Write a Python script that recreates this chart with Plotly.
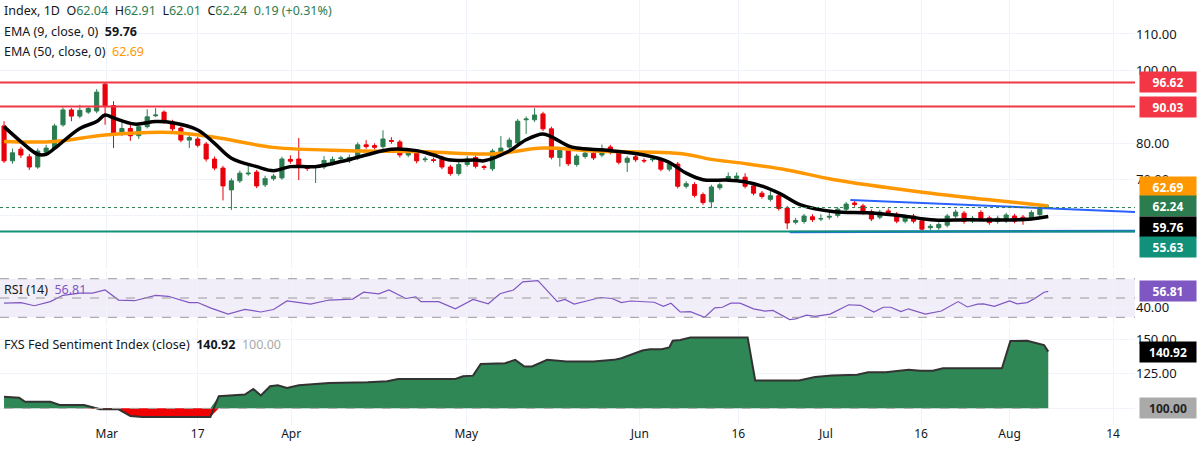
import plotly.graph_objects as go
from plotly.subplots import make_subplots

# bar index positions of the date labels on the bottom axis
tick_pos = [12.2, 23.0, 34.1, 54.9, 75.5, 87.2, 97.6, 108.9, 119.4, 131.7]
tick_text = ["Mar", "17", "Apr", "May", "Jun", "16", "Jul", "16", "Aug", "14"]

opens = [84.7, 75.1, 78.3, 76.2, 73.4, 77.5, 78.6, 85.0, 89.1, 87.4,
         88.5, 88.8, 96.2, 90.3, 82.5, 84.0, 82.0, 84.5, 87.5, 88.5,
         85.8, 84.1, 80.8, 81.1, 79.7, 75.6, 73.1, 67.1, 69.6, 71.5,
         72.0, 68.5, 70.2, 70.4, 75.5, 75.6, 73.1, 73.2, 73.4, 74.4,
         75.7, 75.1, 75.9, 79.5, 79.3, 79.0, 80.7, 80.3, 76.7, 77.5,
         75.4, 75.4, 75.9, 73.4, 71.6, 74.1, 76.0, 73.5, 72.9, 77.5,
         78.9, 80.0, 86.4, 86.4, 88.0, 83.9, 76.0, 78.0, 74.1, 76.3,
         77.2, 76.7, 78.9, 77.5, 74.7, 76.2, 75.2, 75.4, 75.4, 72.8,
         74.2, 68.1, 68.6, 65.8, 63.8, 67.7, 69.9, 70.3, 70.6, 68.2,
         66.2, 64.5, 65.5, 62.1, 58.2, 58.4, 59.7, 59.1, 59.6, 60.1,
         61.8, 63.5, 62.7, 61.1, 59.6, 61.3, 60.4, 58.5, 59.9, 58.6,
         56.7, 56.7, 57.4, 59.9, 60.7, 58.6, 60.9, 59.4, 58.4, 58.6,
         59.9, 59.6, 59.3, 60.3, 62.04]
closes = [75.1, 77.3, 76.7, 73.4, 77.8, 78.6, 84.7, 89.1, 87.4, 89.0,
          89.5, 94.0, 90.3, 82.5, 84.0, 82.0, 84.5, 87.2, 87.7, 85.8,
          83.9, 80.8, 81.5, 79.4, 75.6, 73.1, 68.2, 69.6, 71.7, 71.7,
          68.2, 70.2, 70.9, 75.6, 75.0, 73.4, 73.0, 73.4, 75.2, 75.5,
          75.9, 76.0, 79.5, 79.0, 78.8, 81.1, 80.5, 76.7, 77.5, 75.1,
          75.6, 75.2, 73.4, 71.6, 74.1, 75.6, 73.6, 73.3, 77.8, 78.6,
          80.8, 86.0, 86.6, 87.7, 83.9, 76.1, 78.0, 74.3, 76.4, 77.2,
          75.9, 78.4, 77.5, 74.7, 75.8, 75.4, 75.1, 75.6, 72.8, 74.2,
          68.1, 68.8, 65.6, 63.6, 67.9, 68.5, 70.8, 70.9, 68.1, 66.2,
          65.3, 65.5, 62.0, 58.0, 58.7, 59.9, 58.9, 59.2, 59.8, 61.8,
          63.2, 63.1, 60.9, 59.1, 61.0, 60.9, 58.5, 59.7, 58.5, 56.3,
          57.1, 57.6, 59.9, 61.0, 58.4, 59.3, 59.3, 58.1, 59.3, 60.2,
          58.5, 59.0, 60.9, 62.1, 62.24]
highs = [86.0, 78.5, 79.0, 77.0, 78.5, 79.5, 85.3, 89.8, 89.6, 90.5,
         90.1, 94.8, 96.6, 91.5, 85.8, 85.3, 85.0, 89.3, 89.6, 89.0,
         86.4, 84.6, 82.5, 81.7, 80.3, 76.3, 73.7, 70.3, 72.4, 73.9,
         72.6, 71.0, 71.5, 76.2, 76.6, 81.4, 73.8, 74.0, 76.4, 76.3,
         76.5, 76.8, 80.2, 80.8, 79.9, 83.5, 81.6, 80.9, 78.2, 78.1,
         76.3, 76.0, 76.5, 74.0, 74.8, 76.4, 76.6, 74.0, 78.4, 81.9,
         81.5, 86.6, 87.3, 89.6, 88.6, 84.5, 78.7, 78.6, 77.0, 77.9,
         77.8, 79.6, 79.5, 78.1, 76.4, 76.8, 75.8, 76.6, 76.0, 74.8,
         74.8, 69.5, 69.2, 66.4, 68.5, 69.1, 71.9, 71.9, 71.7, 68.8,
         66.8, 66.9, 66.1, 62.7, 59.4, 60.5, 60.4, 60.4, 61.0, 62.4,
         63.8, 64.2, 63.3, 61.7, 61.6, 62.0, 61.0, 60.3, 60.5, 59.2,
         57.7, 58.2, 60.5, 61.7, 61.3, 59.9, 61.5, 60.0, 60.0, 60.8,
         60.5, 60.2, 61.5, 62.7, 62.91]
lows = [74.5, 74.3, 75.9, 72.6, 72.9, 77.0, 78.0, 84.5, 86.0, 86.8,
        88.0, 88.2, 85.0, 78.6, 81.9, 80.6, 81.1, 84.0, 87.1, 85.3,
        83.3, 80.2, 78.6, 78.8, 74.9, 72.5, 64.2, 61.6, 69.0, 71.0,
        67.6, 67.9, 69.6, 69.9, 74.3, 69.8, 72.3, 69.0, 72.8, 73.8,
        75.0, 74.5, 75.3, 78.4, 78.2, 78.4, 79.8, 76.0, 76.1, 74.4,
        74.7, 74.6, 72.8, 71.0, 71.0, 73.5, 73.0, 72.6, 72.3, 77.0,
        78.3, 79.4, 82.5, 85.8, 83.3, 75.5, 73.5, 73.7, 73.5, 75.7,
        75.3, 76.1, 76.9, 74.1, 72.0, 74.8, 74.5, 74.8, 72.2, 72.2,
        67.5, 67.5, 65.0, 63.0, 62.1, 67.1, 69.3, 69.7, 67.5, 65.6,
        64.7, 63.9, 61.4, 56.3, 57.6, 57.8, 58.3, 58.5, 58.9, 59.5,
        61.2, 62.5, 60.3, 58.5, 59.0, 60.3, 57.9, 57.9, 57.9, 55.7,
        56.1, 56.1, 56.8, 59.3, 57.8, 58.0, 58.7, 57.5, 57.8, 58.0,
        57.9, 57.5, 58.7, 59.7, 62.01]

# EMA readings (bar index, value)
ema9_x = [0, 2, 4, 5, 6, 9, 11, 12, 13, 15.5, 18, 20, 23, 25, 27, 30, 32, 34,
          37, 40, 43, 46, 49, 51, 53, 56, 57, 60, 62, 64, 65, 67, 68, 72, 76,
          78.8, 81, 83, 85.8, 87.8, 90.2, 92.2, 94.6, 98.6, 102.5, 106.5,
          110.5, 114.4, 118.4, 122, 124]
ema9_y = [84.5, 80.4, 76.9, 76.9, 78.5, 84.0, 85.9, 87.7, 86.9, 85.2, 85.9,
          85.6, 83.6, 79.9, 75.8, 73.5, 72.4, 73.5, 73.5, 74.9, 76.7, 78.3,
          77.9, 76.7, 75.3, 75.3, 75.1, 77.8, 80.9, 82.5, 81.7, 79.2, 78.6,
          77.9, 76.7, 74.9, 71.7, 69.9, 69.8, 69.4, 68.0, 66.0, 63.0, 61.1,
          60.8, 60.0, 58.8, 58.9, 58.8, 59.1, 59.76]
ema50_x = [0, 6, 12, 20, 25, 32, 41, 50, 58, 64, 70, 80.7, 84, 87.8, 93,
           98.6, 108.6, 116.4, 124]
ema50_y = [80.4, 80.4, 82.2, 82.9, 81.6, 78.8, 77.9, 77.6, 77.0, 78.6, 77.8,
           77.0, 75.5, 74.4, 72.6, 69.9, 66.6, 64.5, 62.69]

rsi_x = [0, 2, 3.6, 5.5, 7, 9, 10.5, 12, 13.6, 15.5, 18, 19.5, 22, 23, 24.5,
         26.6, 28.6, 30.5, 32, 33.6, 36.4, 38.6, 41.4, 42.7, 44.5, 45.7, 47.7,
         48.9, 49.5, 51.6, 53.6, 55.7, 57.5, 58.9, 60.5, 61.6, 63.4, 65.7,
         66.6, 67.7, 69.3, 70.8, 72.2, 73.3, 74.4, 77.2, 78.3, 79.2, 80.3,
         81.5, 83.2, 84.4, 85.3, 86.3, 87.4, 89, 90.3, 91.3, 93.3, 94, 95.3,
         96.3, 98.1, 100.3, 101.7, 103.3, 104.4, 105.3, 106.5, 107.4, 109.4,
         111.3, 113.3, 114.4, 115.6, 116.3, 117.6, 119.4, 120.3, 121.5,
         122.4, 123.5, 124]
rsi_y = [44.6, 45.3, 42.0, 46.3, 52.8, 55.0, 55.0, 58.3, 47.9, 47.2, 52.8,
         51.8, 45.3, 45.3, 39.8, 33.3, 38.1, 35.5, 38.1, 46.9, 43.7, 47.9,
         48.9, 56.0, 54.4, 58.3, 49.5, 51.1, 46.3, 46.3, 38.8, 48.5, 44.0,
         54.4, 58.3, 66.7, 68.0, 46.3, 48.5, 43.7, 47.2, 50.5, 49.5, 45.3,
         46.9, 45.6, 41.4, 44.6, 35.5, 35.9, 30.0, 39.8, 40.4, 44.6, 44.6,
         38.8, 36.5, 37.1, 27.7, 28.4, 32.3, 31.0, 33.3, 43.0, 42.4, 35.5,
         40.4, 40.4, 35.9, 38.8, 33.3, 36.5, 46.3, 40.7, 43.7, 44.0, 41.4,
         46.9, 44.0, 45.3, 49.5, 56.0, 56.81]

sent_x = [0, 1.8, 2.5, 5.5, 6.6, 9.5, 11.4, 13.6, 15, 16.4, 24.5, 25.5, 28.6,
          29.6, 30.5, 31.6, 32.5, 33.6, 35, 38.6, 43.2, 45.5, 46.8, 53.6, 54.5,
          55.7, 56.6, 59.5, 60.7, 61.8, 62.7, 64.5, 66.8, 70, 72.4, 73.3,
          75.8, 76.7, 78.1, 79, 79.4, 80.3, 81.5, 88.3, 89.2, 94.4, 96.3,
          97.6, 98.3, 101.3, 102.6, 104.7, 105.6, 107.4, 108.8, 110.3, 111.5,
          118.5, 119.5, 121.5, 122.4, 123.5, 124]
sent_y = [108.3, 107.6, 104.8, 104.8, 102.4, 102.4, 99.3, 99.3, 94.5, 93.8,
          93.8, 108.8, 110.0, 114.0, 109.3, 116.0, 116.7, 114.8, 116.7, 118.3,
          118.8, 119.5, 121.2, 121.2, 123.1, 123.6, 132.1, 132.6, 135.0, 130.2,
          130.2, 135.0, 133.8, 133.8, 135.0, 136.2, 141.7, 142.6, 142.6, 144.0,
          148.8, 149.3, 151.2, 151.2, 120.2, 120.2, 122.6, 123.1, 123.8, 124.3,
          126.0, 126.0, 126.7, 127.9, 127.1, 127.1, 129.0, 129.0, 148.6, 148.8,
          147.4, 145.7, 140.92]

# drawn trend lines (bar index, price)
upper_tl_x = [100.5, 134.3]
upper_tl_y = [64.35, 61.0]
lower_tl_x = [93.3, 134.3]
lower_tl_y = [55.5, 55.8]
levels = [96.62, 90.03]
support = 55.63

GREEN = "#2b7d50"
RED = "#e8000b"
FONT = "Noto Sans"
idx = list(range(len(opens)))

fig = make_subplots(rows=3, cols=1, shared_xaxes=True, vertical_spacing=0.007,
                    row_heights=[268, 54, 97])

fig.add_trace(go.Candlestick(x=idx, open=opens, high=highs, low=lows, close=closes,
                             increasing=dict(line=dict(color=GREEN, width=1), fillcolor=GREEN),
                             decreasing=dict(line=dict(color=RED, width=1), fillcolor=RED),
                             whiskerwidth=0), row=1, col=1)
fig.add_trace(go.Scatter(x=ema50_x, y=ema50_y, mode="lines", line=dict(color="#ff9800", width=3.5, shape="spline")), row=1, col=1)
fig.add_trace(go.Scatter(x=ema9_x, y=ema9_y, mode="lines", line=dict(color="#000000", width=3.5, shape="spline")), row=1, col=1)
fig.add_trace(go.Scatter(x=upper_tl_x, y=upper_tl_y, mode="lines", line=dict(color="#2962ff", width=2)), row=1, col=1)
fig.add_trace(go.Scatter(x=lower_tl_x, y=lower_tl_y, mode="lines", line=dict(color="#2962ff", width=2.5)), row=1, col=1)

for lv in levels:
    fig.add_hline(y=lv, line=dict(color="#f23645", width=2), row=1, col=1)
fig.add_hline(y=support, line=dict(color="#11907a", width=2), row=1, col=1)
fig.add_hline(y=closes[-1], line=dict(color=GREEN, width=1, dash="dot"), row=1, col=1)

# RSI band and levels
fig.add_shape(type="rect", xref="x2 domain", yref="y2", x0=0, x1=1, y0=30, y1=70,
              fillcolor="rgba(126,87,194,0.1)", line_width=0, layer="below")
for lv in [70, 50, 30]:
    fig.add_shape(type="line", xref="x2 domain", yref="y2", x0=0, x1=1, y0=lv, y1=lv,
                  line=dict(color="#999", width=1, dash="dash"))
fig.add_trace(go.Scatter(x=rsi_x, y=rsi_y, mode="lines", line=dict(color="#7e57c2", width=1.2)), row=2, col=1)

# sentiment: green above 100, red below
up = [max(v, 100) for v in sent_y]
dn = [min(v, 100) for v in sent_y]
base = [100] * len(sent_x)
fig.add_trace(go.Scatter(x=sent_x, y=base, mode="lines", line=dict(width=0)), row=3, col=1)
fig.add_trace(go.Scatter(x=sent_x, y=up, mode="lines", fill="tonexty", fillcolor="#2e8754",
                         line=dict(width=0)), row=3, col=1)
fig.add_trace(go.Scatter(x=sent_x, y=base, mode="lines", line=dict(width=0)), row=3, col=1)
fig.add_trace(go.Scatter(x=sent_x, y=dn, mode="lines", fill="tonexty", fillcolor="#f00000",
                         line=dict(width=0)), row=3, col=1)
fig.add_trace(go.Scatter(x=sent_x, y=sent_y, mode="lines", line=dict(color="#333", width=2)), row=3, col=1)
fig.add_shape(type="line", xref="x3", yref="y3", x0=sent_x[0], x1=sent_x[-1], y0=100, y1=100,
              line=dict(color="#aaa", width=1, dash="dash"))

grid = "#f0f3fa"
fig.update_xaxes(range=[-0.48, 134.3], tickvals=tick_pos, ticktext=tick_text, showgrid=True,
                 gridcolor=grid, zeroline=False, showline=False, rangeslider_visible=False,
                 tickfont=dict(family=FONT, size=12, color="#131722"))
fig.update_xaxes(showticklabels=False, row=1, col=1)
fig.update_xaxes(showticklabels=False, row=2, col=1)
fig.update_yaxes(side="right", showgrid=True, gridcolor=grid, zeroline=False,
                 tickformat=".2f", tickfont=dict(family=FONT, size=13, color="#131722"))
fig.update_yaxes(range=[45.6, 119.35], tickvals=[60, 70, 80, 90, 100, 110], ticktext=["", "70.00", "80.00", "", "100.00", "110.00"], row=1, col=1)
fig.update_yaxes(range=[22, 78], tickvals=[40], row=2, col=1)
fig.update_yaxes(range=[88, 158], tickvals=[100, 125, 150], ticktext=["", "125.00", "150.00"], row=3, col=1)

def tag(text, y, color, yref, fcolor="white"):
    fig.add_annotation(x=1, xref="paper", y=y, yref=yref, text="<b>%s</b>" % text, showarrow=False,
                       xanchor="left", xshift=4, bgcolor=color, width=54, height=18,
                       font=dict(family=FONT, size=12, color=fcolor))

tag("96.62", 96.8, "#f23645", "y")
tag("90.03", 89.9, "#f23645", "y")
tag("62.69", 67.9, "#ff9800", "y")
tag("62.24", 62.7, GREEN, "y")
tag("59.76", 56.9, "#000000", "y")
tag("55.63", 51.4, "#11907a", "y")
tag("56.81", 56.81, "#7e57c2", "y2")
tag("140.92", 140.92, "#000000", "y3")
tag("100.00", 100, "#aaaaaa", "y3", "#222")

def legend(text, y):
    fig.add_annotation(x=0, xref="paper", y=y, yref="paper", text=text, showarrow=False,
                       xanchor="left", yanchor="middle", xshift=2,
                       font=dict(family=FONT, size=12.5, color="#131722"))

g = lambda s: "<span style='color:%s'>%s</span>" % (GREEN, s)
legend("Index, 1D  O" + g("62.04") + "  H" + g("62.91") + "  L" + g("62.01") + "  C" + g("62.24")
       + "  " + g("0.19 (+0.31%)"), 1 - 11 / 425)
legend("EMA (9, close, 0)  <b>59.76</b>", 1 - 31 / 425)
legend("EMA (50, close, 0)  <span style='color:#ff9800'>62.69</span>", 1 - 51 / 425)
legend("RSI (14)  <span style='color:#7e57c2'>56.81</span>", 1 - 289 / 425)
legend("FXS Fed Sentiment Index (close)  <b>140.92</b>  <span style='color:#aaa'>100.00</span>", 1 - 344 / 425)

fig.update_layout(width=1197, height=458, margin=dict(l=0, r=62, t=0, b=33),
                  plot_bgcolor="white", paper_bgcolor="white", showlegend=False)
fig.write_html("out.html", config={"displayModeBar": False},
               post_script="document.body.style.margin='0';")
